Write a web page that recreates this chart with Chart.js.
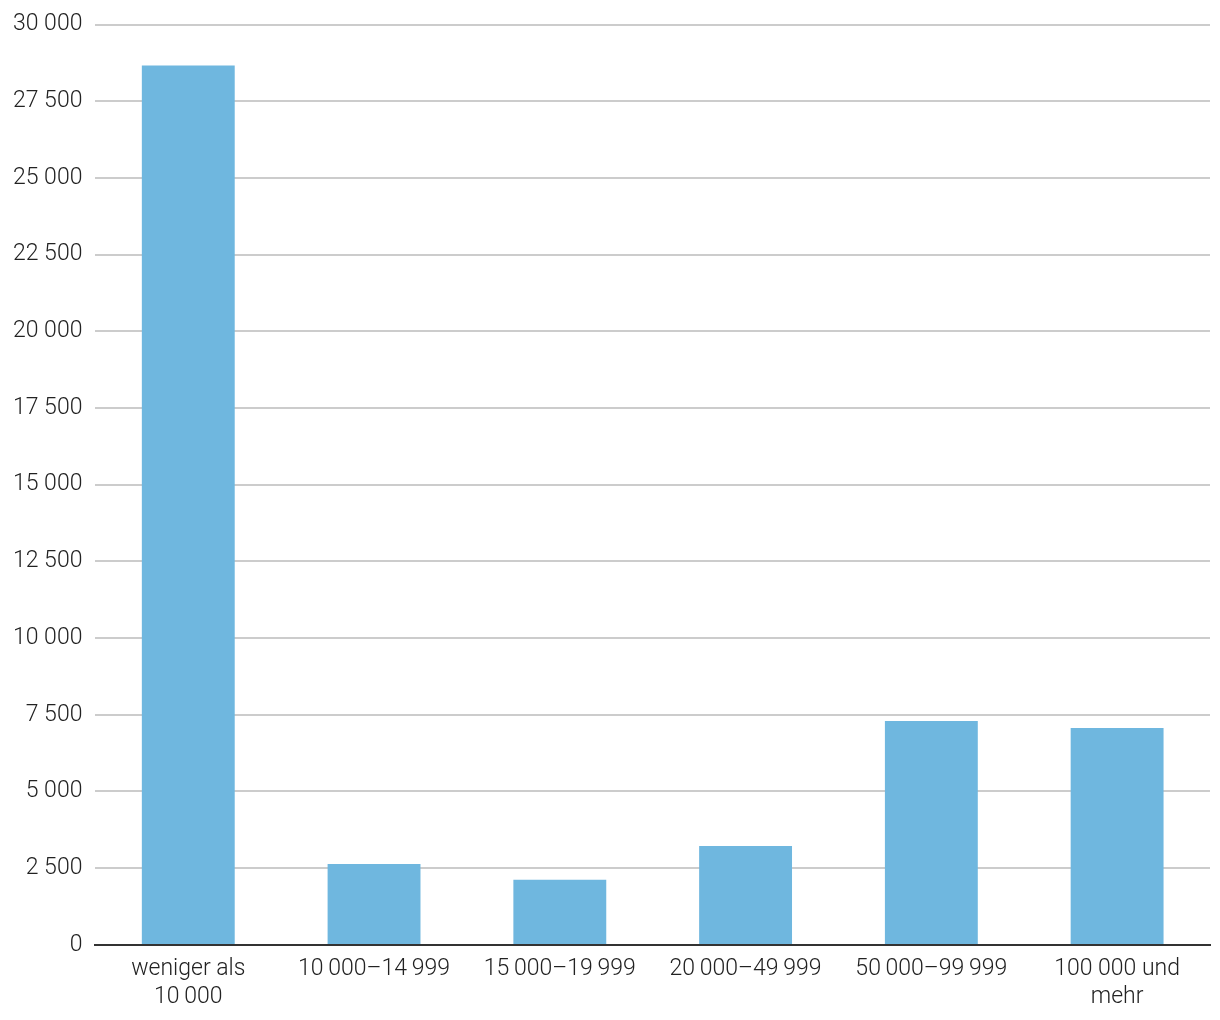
<!DOCTYPE html>
<html>
<head>
<meta charset="utf-8">
<script src="https://cdn.jsdelivr.net/npm/chart.js@4"></script>
<style>
  html, body { margin: 0; padding: 0; background: #fff; }
  #wrap { width: 1220px; height: 1020px; }
</style>
</head>
<body>
<div id="wrap"><canvas id="chart"></canvas></div>
<script>
// income brackets (narrow spaces in the group separators, as in the original)
const CATEGORIES = [
  ['weniger als', '10\u2009000'],
  '10\u2009000\u201314\u2009999',
  '15\u2009000\u201319\u2009999',
  '20\u2009000\u201349\u2009999',
  '50\u2009000\u201399\u2009999',
  ['100 000 und', 'mehr']
];
const VALUES = [28660, 2640, 2120, 3220, 7300, 7070];

const Y_MAX = 30000;
const Y_STEP = 2500;

const FAMILY = "Roboto, 'Liberation Sans', sans-serif";
const X_FONT = { family: FAMILY, size: 23, weight: 300, lineHeight: 1.22 };
const Y_FONT = { family: FAMILY, size: 23, weight: 300, lineHeight: 1 };
const TEXT = '#222';

function fmt(v) {
  return String(v).replace(/\B(?=(\d{3})+(?!\d))/g, ' ');
}

new Chart(document.getElementById('chart'), {
  type: 'bar',
  data: {
    labels: CATEGORIES,
    datasets: [{
      data: VALUES,
      backgroundColor: '#6fb7df',
      borderWidth: 0,
      barPercentage: 0.5,
      categoryPercentage: 1
    }]
  },
  options: {
    responsive: true,
    maintainAspectRatio: false,
    animation: false,
    layout: { padding: { top: 0, right: 10, left: 0, bottom: -1 } },
    plugins: { legend: { display: false }, tooltip: { enabled: false } },
    scales: {
      x: {
        grid: { display: false, drawTicks: false },
        border: { color: '#333', width: 2 },
        ticks: { color: TEXT, font: X_FONT, padding: 10, maxRotation: 0, autoSkip: false }
      },
      y: {
        min: 0,
        max: Y_MAX,
        grid: { color: '#cccccc', lineWidth: 2, drawTicks: false },
        border: { display: false },
        ticks: { stepSize: Y_STEP, color: TEXT, font: Y_FONT, padding: 13, callback: v => fmt(v) }
      }
    }
  }
});
</script>
</body>
</html>
